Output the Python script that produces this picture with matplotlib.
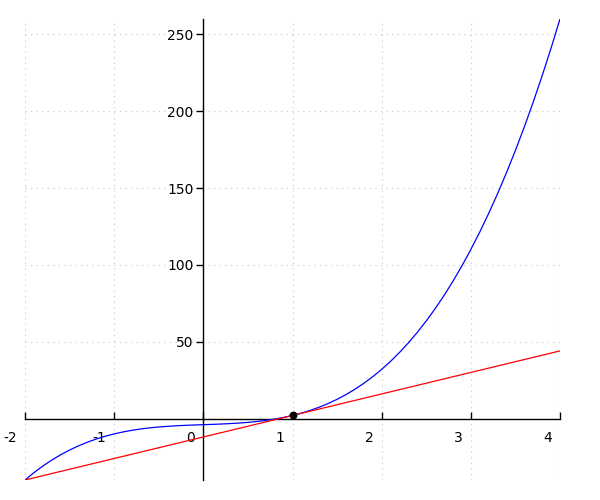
import matplotlib
matplotlib.use("Agg")
import matplotlib.pyplot as plt
import matplotlib.transforms as mtransforms

# curve values (step 0.1)
curve_x = [-2.0, -1.9, -1.8, -1.7, -1.6, -1.5, -1.4, -1.3, -1.2, -1.1,
           -1.0, -0.9, -0.8, -0.7, -0.6, -0.5, -0.4, -0.3, -0.2, -0.1,
           0.0, 0.1, 0.2, 0.3, 0.4, 0.5, 0.6, 0.7, 0.8, 0.9,
           1.0, 1.1, 1.2, 1.3, 1.4, 1.5, 1.6, 1.7, 1.8, 1.9,
           2.0, 2.1, 2.2, 2.3, 2.4, 2.5, 2.6, 2.7, 2.8, 2.9,
           3.0, 3.1, 3.2, 3.3, 3.4, 3.5, 3.6, 3.7, 3.8, 3.9, 4.0]
curve_y = [-40.0, -35.24, -30.93, -27.05, -23.58, -20.5, -17.78, -15.39, -13.31, -11.52,
           -10.0, -8.72, -7.65, -6.77, -6.06, -5.5, -5.06, -4.71, -4.43, -4.20,
           -4.0, -3.80, -3.57, -3.29, -2.94, -2.5, -1.94, -1.23, -0.35, 0.72,
           2.0, 3.52, 5.31, 7.39, 9.78, 12.5, 15.58, 19.05, 22.93, 27.24,
           32.0, 37.24, 42.99, 49.27, 56.10, 63.5, 71.50, 80.13, 89.41, 99.36,
           110.0, 121.36, 133.47, 146.35, 160.02, 174.5, 189.82, 206.01, 223.09, 241.08, 260.0]

# tangent line
line_x = [-2, 4]
line_y = [-40, 44]

point_x = [1]
point_y = [2]

xticks = [-2, -1, 0, 1, 2, 3, 4]
yticks = [50, 100, 150, 200, 250]

fig = plt.figure(figsize=(6, 5), dpi=100)
ax = fig.add_axes([25 / 600, 20 / 500, 535 / 600, 461 / 500])

ax.plot(curve_x, curve_y, color="blue", lw=0.9, zorder=3)
ax.plot(line_x, line_y, color="red", lw=0.9, zorder=3)
ax.scatter(point_x, point_y, color="black", s=22, zorder=5)

ax.set_xlim(-2, 4)
ax.set_ylim(-40, 260)

ax.spines["left"].set_position("zero")
ax.spines["bottom"].set_position("zero")
ax.spines["right"].set_visible(False)
ax.spines["top"].set_visible(False)
for s in ("left", "bottom"):
    ax.spines[s].set_linewidth(1)

ax.set_xticks(xticks)
ax.set_xticklabels([str(t) for t in xticks])
ax.set_yticks(yticks)
ax.set_yticklabels([str(t) for t in yticks])

ax.tick_params(axis="x", direction="in", length=5, width=1, labelsize=10, pad=9)
ax.tick_params(axis="y", direction="out", length=5, width=1, labelsize=10, pad=2)

offset = mtransforms.ScaledTranslation(-8 / 100, 0, fig.dpi_scale_trans)
for lab in ax.get_xticklabels():
    lab.set_horizontalalignment("right")
    lab.set_transform(lab.get_transform() + offset)

ax.grid(True, linestyle=(0, (1, 4)), color="#c4c4c4", lw=0.8)
ax.set_axisbelow(True)

fig.savefig("out.png", dpi=100)
